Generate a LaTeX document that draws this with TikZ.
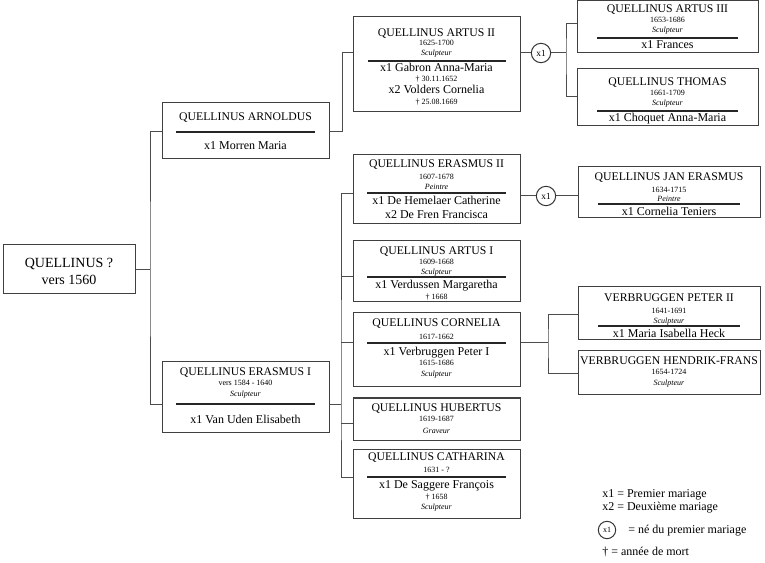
\documentclass[tikz,border=0pt]{standalone}
\usepackage{fontspec}
\setmainfont{Liberation Serif}
\usetikzlibrary{fit}
\begin{document}
\begin{tikzpicture}[x=0.75pt,y=-0.75pt,
  box/.style={draw=black!75,line width=0.75pt,inner sep=0pt,fill=white},
  conn/.style={draw=black!70,line width=0.75pt},
  sepline/.style={draw=black!85,line width=0.9pt},
  nm/.style={anchor=base,yshift=-2.9pt,inner sep=0pt,font=\fontsize{8.8}{9}\selectfont},
  tx/.style={anchor=base,yshift=-2.5pt,inner sep=0pt,font=\fontsize{9}{10}\selectfont},
  sm/.style={anchor=base,yshift=-1.9pt,inner sep=0pt,font=\fontsize{6}{7}\selectfont},
  si/.style={sm,font=\fontsize{6}{7}\selectfont\itshape},
  rt/.style={anchor=base,yshift=-3.5pt,inner sep=0pt,font=\fontsize{10.5}{12}\selectfont},
  lg/.style={anchor=base west,yshift=-2.5pt,inner sep=0pt,font=\fontsize{9}{10}\selectfont},
  circ/.style={circle,draw=black!80,line width=0.75pt,minimum size=14.5pt,inner sep=0pt,fill=white,font=\fontsize{7}{8}\selectfont}]
\useasboundingbox (0,0) rectangle (765,563);

% ---------- boxes ----------
\node[box,fit={(3,245) (135,294)}] (root) {};
\node[box,fit={(162,103) (329,159)}] (arnoldus) {};
\node[box,fit={(162,362) (329,432)}] (erasmus1) {};
\node[box,fit={(353,17) (520,112)}] (artus2) {};
\node[box,fit={(577,1) (758,53)}] (artus3) {};
\node[box,fit={(577,69) (758,126)}] (thomas) {};
\node[box,fit={(353,155) (520,224)}] (erasmus2) {};
\node[box,fit={(578,167) (760,218)}] (janerasmus) {};
\node[box,fit={(353,241) (520,302)}] (artus1) {};
\node[box,fit={(353,313) (520,387)}] (cornelia) {};
\node[box,fit={(578,287) (760,340)}] (peter2) {};
\node[box,fit={(578,351) (760,395)}] (hendrik) {};
\node[box,fit={(353,398) (520,440)}] (hubertus) {};
\node[box,fit={(353,449) (520,518)}] (catharina) {};

% ---------- separators (named ends) ----------
\coordinate (arnSa) at (176,132); \coordinate (arnSb) at (315,132);
\coordinate (er1Sa) at (176,404); \coordinate (er1Sb) at (315,404);
\coordinate (a2Sa) at (368,61); \coordinate (a2Sb) at (506,61);
\coordinate (a3Sa) at (597,38); \coordinate (a3Sb) at (738,38);
\coordinate (thSa) at (597,111); \coordinate (thSb) at (738,111);
\coordinate (e2Sa) at (367,193); \coordinate (e2Sb) at (506,193);
\coordinate (jeSa) at (598,204); \coordinate (jeSb) at (740,204);
\coordinate (a1Sa) at (367,277); \coordinate (a1Sb) at (506,277);
\coordinate (coSa) at (367,343); \coordinate (coSb) at (506,343);
\coordinate (p2Sa) at (598,326); \coordinate (p2Sb) at (740,326);
\coordinate (caSa) at (367,477); \coordinate (caSb) at (506,477);
\foreach \s in {arn,er1,a2,a3,th,e2,je,a1,co,p2,ca}
  \draw[sepline] (\s Sa) -- (\s Sb);

% ---------- texts ----------
\node[rt] (rootn) at (69,263) {QUELLINUS ?};
\node[rt] (rootd) at (69,280) {vers 1560};

\node[nm] (arnn) at (245.5,117) {QUELLINUS ARNOLDUS};
\node[tx] (arnm) at (245.5,146) {x1 Morren Maria};

\node[nm] (er1n) at (245.5,372) {QUELLINUS ERASMUS I};
\node[sm] (er1d) at (245.5,383) {vers 1584 - 1640};
\node[si] (er1p) at (245.5,394) {Sculpteur};
\node[tx] (er1m) at (245.5,420) {x1 Van Uden Elisabeth};

\node[nm] (a2n) at (436.5,33) {QUELLINUS ARTUS II};
\node[sm] (a2d) at (436.5,43) {1625-1700};
\node[si] (a2p) at (436.5,53) {Sculpteur};
\node[tx] (a2m) at (436.5,68) {x1 Gabron Anna-Maria};
\node[sm] (a2x) at (436.5,79) {† 30.11.1652};
\node[tx] (a2m2) at (436.5,90) {x2 Volders Cornelia};
\node[sm] (a2y) at (436.5,102) {† 25.08.1669};

\node[nm] (a3n) at (667.5,9) {QUELLINUS ARTUS III};
\node[sm] (a3d) at (667.5,20) {1653-1686};
\node[si] (a3p) at (667.5,30) {Sculpteur};
\node[tx] (a3m) at (667.5,45) {x1 Frances};

\node[nm] (thn) at (667.5,82) {QUELLINUS THOMAS};
\node[sm] (thd) at (667.5,93) {1661-1709};
\node[si] (thp) at (667.5,103) {Sculpteur};
\node[tx] (thm) at (667.5,118) {x1 Choquet Anna-Maria};

\node[nm] (e2n) at (436.5,164) {QUELLINUS ERASMUS II};
\node[sm] (e2d) at (436.5,177) {1607-1678};
\node[si] (e2p) at (436.5,187) {Peintre};
\node[tx] (e2m) at (436.5,201) {x1 De Hemelaer Catherine};
\node[tx] (e2m2) at (436.5,215) {x2 De Fren Francisca};

\node[nm] (jen) at (669,177) {QUELLINUS JAN ERASMUS};
\node[sm] (jed) at (669,190) {1634-1715};
\node[si] (jep) at (669,199) {Peintre};
\node[tx] (jem) at (669,212) {x1 Cornelia Teniers};

\node[nm] (a1n) at (436.5,251) {QUELLINUS ARTUS I};
\node[sm] (a1d) at (436.5,262) {1609-1668};
\node[si] (a1p) at (436.5,272) {Sculpteur};
\node[tx] (a1m) at (436.5,285) {x1 Verdussen Margaretha};
\node[sm] (a1x) at (436.5,297) {† 1668};

\node[nm] (con) at (436.5,323) {QUELLINUS CORNELIA};
\node[sm] (cod) at (436.5,337) {1617-1662};
\node[tx] (com) at (436.5,352) {x1 Verbruggen Peter I};
\node[sm] (cod2) at (436.5,363) {1615-1686};
\node[si] (cop) at (436.5,374) {Sculpteur};

\node[nm] (p2n) at (669,298) {VERBRUGGEN PETER II};
\node[sm] (p2d) at (669,311) {1641-1691};
\node[si] (p2p) at (669,321) {Sculpteur};
\node[tx] (p2m) at (669,334) {x1 Maria Isabella Heck};

\node[nm] (hfn) at (669,361) {VERBRUGGEN HENDRIK-FRANS};
\node[sm] (hfd) at (669,372) {1654-1724};
\node[si] (hfp) at (669,383) {Sculpteur};

\node[nm] (hun) at (436.5,408) {QUELLINUS HUBERTUS};
\node[sm] (hud) at (436.5,419) {1619-1687};
\node[si] (hup) at (436.5,431) {Graveur};

\node[nm] (can) at (436.5,457) {QUELLINUS CATHARINA};
\node[sm] (cad) at (436.5,470) {1631 - ?};
\node[tx] (cam) at (436.5,485) {x1 De Saggere François};
\node[sm] (cax) at (436.5,497) {† 1658};
\node[si] (cap2) at (436.5,507) {Sculpteur};

% ---------- circles ----------
\node[circ] (c1) at (541,53) {x1};
\node[circ] (c2) at (546,196) {x1};

% ---------- bus coordinates ----------
\coordinate (b1) at (150,270);
\coordinate (b2) at (342,53);
\coordinate (b3) at (566,53);
\coordinate (b4) at (341,404);
\coordinate (b5) at (548,343);

% ---------- connectors ----------
\draw[conn] (root.east |- b1) -- (b1);
\draw[conn] (arnoldus.west |- arnSa) -| (b1) |- (erasmus1.west |- er1Sa);
\draw[conn] (arnoldus.east |- arnSa) -| (b2) -- (artus2.west |- b2);
\draw[conn] (artus2.east |- b2) -- (c1.west);
\draw[conn] (c1.east) -- (b3);
\draw[conn] (artus3.west |- 0,24) -| (b3) |- (thomas.west |- 0,97);
\draw[conn] (erasmus1.east |- er1Sa) -- (b4);
\draw[conn] (erasmus2.west |- 0,194) -| (b4) |- (catharina.west |- caSa);
\draw[conn] (b4 |- a1Sa) -- (artus1.west |- a1Sa);
\draw[conn] (b4 |- coSa) -- (cornelia.west |- coSa);
\draw[conn] (b4 |- 0,423) -- (hubertus.west |- 0,423);
\draw[conn] (erasmus2.east |- c2) -- (c2.west);
\draw[conn] (c2.east) -- (janerasmus.west |- c2);
\draw[conn] (cornelia.east |- coSa) -- (b5);
\draw[conn] (peter2.west |- 0,315) -| (b5) |- (hendrik.west |- 0,374);

% ---------- legend ----------
\node[lg] (lg1) at (602,494) {x1 = Premier mariage};
\node[lg] (lg2) at (602,507) {x2 = Deuxième mariage};
\node[circ,minimum size=13pt,font=\fontsize{6}{7}\selectfont] (lgc) at (607,530) {x1};
\node[lg] (lg3) at (628,530) {= né du premier mariage};
\node[lg] (lg4) at (602,552) {† = année de mort};
\end{tikzpicture}
\end{document}
